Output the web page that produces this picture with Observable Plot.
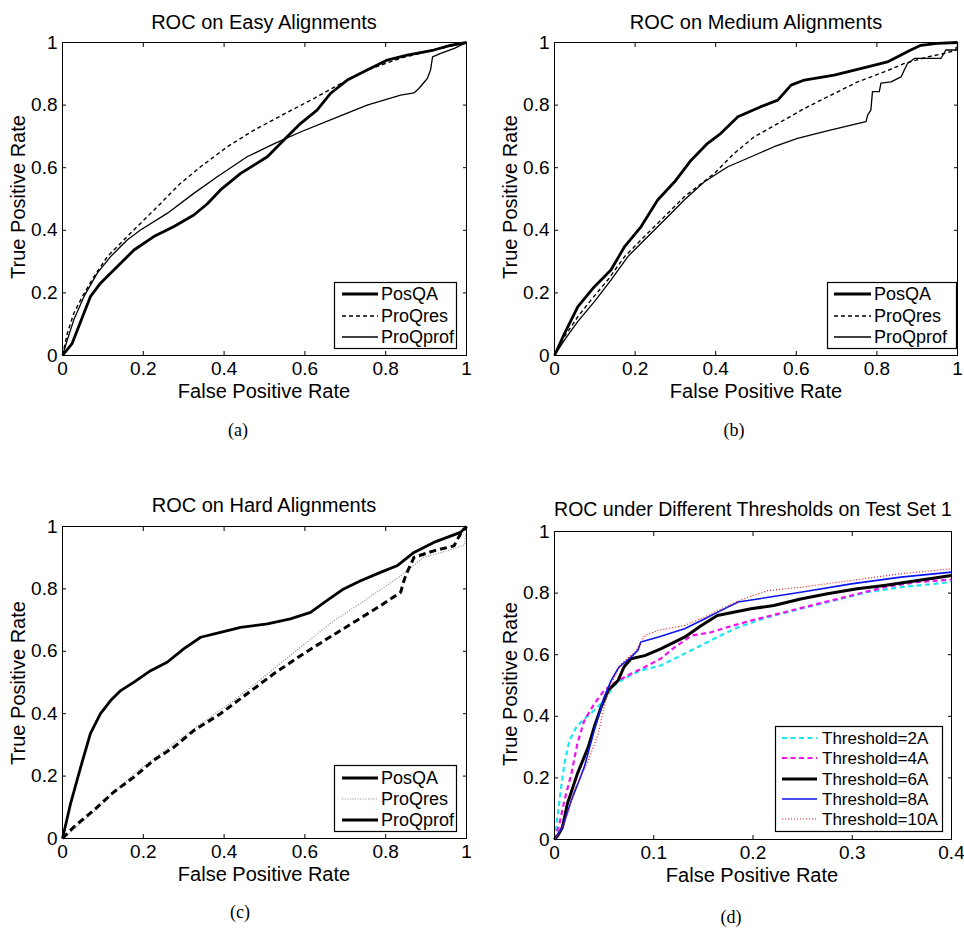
<!DOCTYPE html>
<html>
<head>
<meta charset="utf-8">
<script src="https://cdn.jsdelivr.net/npm/d3@7"></script>
<script src="https://cdn.jsdelivr.net/npm/@observablehq/plot@0.6"></script>
<style>
  html, body { margin: 0; padding: 0; background: #fff; }
  #root { position: relative; width: 964px; height: 928px; overflow: hidden; font-family: "Liberation Sans", Arial, sans-serif; color: #000; }
  .abs { position: absolute; }
  .title, .xlab { position: absolute; transform: translate(-50%, -50%); font-size: 20px; line-height: 0.8; white-space: nowrap; }
  .ylab { position: absolute; transform: translate(-50%, -50%) rotate(-90deg); font-size: 20px; line-height: 0.8; white-space: nowrap; }
  .cap { position: absolute; transform: translate(-50%, -50%); font-family: "Liberation Serif", "DejaVu Serif", serif; font-size: 18px; line-height: 1; }
</style>
</head>
<body>
<div id="root"></div>
<script>
// ---------- tick labels ----------
const rateTicks = [0, 0.2, 0.4, 0.6, 0.8, 1];
const fprTicksD = [0, 0.1, 0.2, 0.3, 0.4];

// ---------- titles / labels ----------
const titles = ["ROC on Easy Alignments", "ROC on Medium Alignments", "ROC on Hard Alignments", "ROC under Different Thresholds on Test Set 1"];
const captions = ["(a)", "(b)", "(c)", "(d)"];
const xLabel = "False Positive Rate";
const yLabel = "True Positive Rate";
const methodNames = ["PosQA", "ProQres", "ProQprof"];
const thresholdNames = ["Threshold=2A", "Threshold=4A", "Threshold=6A", "Threshold=8A", "Threshold=10A"];

// ---------- (a) Easy ----------
const easyPosQA = [[0,0],[0.024,0.039],[0.045,0.109],[0.069,0.188],[0.094,0.231],[0.127,0.273],[0.177,0.337],[0.226,0.380],[0.276,0.412],[0.325,0.449],[0.358,0.484],[0.391,0.529],[0.441,0.582],[0.507,0.635],[0.556,0.699],[0.589,0.741],[0.630,0.784],[0.663,0.837],[0.705,0.880],[0.754,0.912],[0.804,0.944],[0.853,0.960],[0.919,0.976],[0.960,0.991],[1,1]];
const easyProQres = [[0,0],[0.012,0.071],[0.028,0.135],[0.049,0.188],[0.078,0.252],[0.111,0.316],[0.160,0.380],[0.193,0.422],[0.243,0.486],[0.292,0.550],[0.342,0.603],[0.408,0.667],[0.474,0.720],[0.548,0.771],[0.622,0.821],[0.696,0.874],[0.754,0.912],[0.837,0.950],[0.919,0.976],[1,1]];
const easyProQprof = [[0,0],[0.012,0.050],[0.028,0.114],[0.053,0.188],[0.086,0.263],[0.119,0.316],[0.160,0.369],[0.193,0.401],[0.259,0.454],[0.325,0.518],[0.383,0.571],[0.457,0.635],[0.523,0.676],[0.589,0.714],[0.671,0.757],[0.754,0.800],[0.837,0.832],[0.870,0.839],[0.882,0.853],[0.903,0.885],[0.911,0.912],[0.916,0.954],[0.936,0.965],[0.970,0.981],[1,1]];

// ---------- (b) Medium ----------
const medPosQA = [[0,0],[0.025,0.071],[0.058,0.156],[0.099,0.220],[0.140,0.273],[0.174,0.348],[0.215,0.412],[0.256,0.497],[0.298,0.555],[0.339,0.624],[0.380,0.678],[0.413,0.710],[0.455,0.763],[0.512,0.795],[0.554,0.816],[0.587,0.864],[0.620,0.880],[0.694,0.896],[0.777,0.922],[0.826,0.938],[0.884,0.976],[0.909,0.991],[0.950,0.997],[1,1]];
const medProQres = [[0,0],[0.025,0.061],[0.058,0.124],[0.091,0.178],[0.132,0.241],[0.174,0.316],[0.223,0.380],[0.273,0.444],[0.322,0.507],[0.397,0.582],[0.446,0.646],[0.496,0.699],[0.554,0.741],[0.620,0.789],[0.686,0.832],[0.752,0.874],[0.818,0.906],[0.868,0.933],[0.926,0.954],[0.967,0.965],[0.995,0.975],[1,1]];
const medProQprof = [[0,0],[0.025,0.050],[0.058,0.109],[0.099,0.172],[0.140,0.241],[0.182,0.316],[0.223,0.369],[0.273,0.433],[0.322,0.497],[0.372,0.555],[0.430,0.603],[0.488,0.635],[0.545,0.667],[0.603,0.694],[0.669,0.715],[0.736,0.736],[0.773,0.747],[0.777,0.768],[0.785,0.784],[0.789,0.843],[0.806,0.843],[0.810,0.870],[0.835,0.874],[0.860,0.890],[0.868,0.912],[0.876,0.933],[0.893,0.949],[0.959,0.949],[0.971,0.976],[1,0.976],[1,1]];

// ---------- (c) Hard ----------
const hardPosQA = [[0,0],[0.020,0.112],[0.045,0.229],[0.069,0.336],[0.094,0.400],[0.119,0.442],[0.144,0.474],[0.177,0.501],[0.218,0.538],[0.259,0.565],[0.300,0.608],[0.342,0.645],[0.391,0.661],[0.441,0.677],[0.507,0.688],[0.564,0.704],[0.614,0.725],[0.655,0.763],[0.696,0.800],[0.738,0.826],[0.787,0.853],[0.828,0.874],[0.870,0.917],[0.919,0.949],[0.952,0.965],[0.985,0.981],[1,1]];
const hardProQres = [[0,0],[0.036,0.037],[0.094,0.107],[0.177,0.208],[0.259,0.288],[0.342,0.368],[0.424,0.442],[0.507,0.527],[0.589,0.613],[0.672,0.698],[0.754,0.768],[0.837,0.842],[0.894,0.901],[0.952,0.922],[0.995,0.940],[1,1]];
const hardProQprof = [[0,0],[0.028,0.037],[0.078,0.091],[0.127,0.149],[0.177,0.197],[0.226,0.251],[0.276,0.293],[0.325,0.346],[0.391,0.400],[0.457,0.464],[0.523,0.528],[0.589,0.586],[0.655,0.640],[0.721,0.693],[0.787,0.746],[0.837,0.789],[0.845,0.826],[0.853,0.853],[0.870,0.901],[0.919,0.922],[0.969,0.938],[0.985,0.976],[1,1]];

// ---------- (d) Thresholds on Test Set 1 ----------
const thr2A = [[0,0],[0.0034,0.083],[0.0067,0.170],[0.010,0.246],[0.015,0.321],[0.022,0.365],[0.030,0.392],[0.040,0.419],[0.050,0.451],[0.060,0.500],[0.070,0.522],[0.087,0.549],[0.107,0.565],[0.124,0.592],[0.144,0.624],[0.164,0.657],[0.185,0.689],[0.215,0.722],[0.248,0.749],[0.282,0.776],[0.315,0.803],[0.349,0.819],[0.4,0.836]];
const thr4A = [[0,0],[0.005,0.051],[0.010,0.127],[0.017,0.213],[0.023,0.311],[0.030,0.386],[0.040,0.440],[0.050,0.484],[0.064,0.516],[0.077,0.538],[0.091,0.560],[0.107,0.587],[0.121,0.624],[0.138,0.662],[0.158,0.673],[0.174,0.689],[0.198,0.711],[0.232,0.738],[0.265,0.765],[0.299,0.792],[0.332,0.819],[0.366,0.836],[0.4,0.844]];
const thr6A = [[0,0],[0.0034,0.013],[0.008,0.040],[0.013,0.116],[0.023,0.213],[0.034,0.300],[0.040,0.365],[0.047,0.430],[0.054,0.484],[0.064,0.516],[0.070,0.560],[0.077,0.587],[0.091,0.597],[0.107,0.619],[0.131,0.657],[0.148,0.695],[0.164,0.727],[0.198,0.749],[0.221,0.760],[0.248,0.781],[0.275,0.798],[0.305,0.814],[0.332,0.825],[0.366,0.841],[0.4,0.857]];
const thr8A = [[0,0],[0.008,0.040],[0.017,0.127],[0.030,0.235],[0.040,0.354],[0.045,0.408],[0.050,0.462],[0.057,0.516],[0.065,0.560],[0.077,0.592],[0.084,0.614],[0.087,0.641],[0.104,0.657],[0.131,0.684],[0.151,0.716],[0.168,0.744],[0.185,0.771],[0.205,0.781],[0.248,0.803],[0.299,0.830],[0.349,0.852],[0.4,0.868]];
const thr10A = [[0,0],[0.010,0.051],[0.020,0.159],[0.034,0.256],[0.044,0.343],[0.050,0.430],[0.057,0.505],[0.067,0.570],[0.081,0.608],[0.091,0.662],[0.104,0.679],[0.131,0.695],[0.151,0.722],[0.171,0.754],[0.195,0.787],[0.215,0.808],[0.248,0.819],[0.299,0.841],[0.349,0.863],[0.4,0.879]];

// ---------- styles ----------
const sThick = {stroke: "#000", strokeWidth: 2.8};
const sDash = {stroke: "#000", strokeWidth: 1.4, strokeDasharray: "4,3"};
const sThin = {stroke: "#000", strokeWidth: 1.3};
const sDotGray = {stroke: "#8a8a8a", strokeWidth: 1.2, strokeDasharray: "1,1.6"};
const sThickDash = {stroke: "#000", strokeWidth: 3, strokeDasharray: "7,4"};
const sCyan = {stroke: "#19e6f0", strokeWidth: 2.2, strokeDasharray: "5,3.5"};
const sMagenta = {stroke: "#f010f0", strokeWidth: 2.2, strokeDasharray: "5,3.5"};
const sBlack6 = {stroke: "#000", strokeWidth: 3};
const sBlue = {stroke: "#0a14f0", strokeWidth: 1.6};
const sRed = {stroke: "#f01818", strokeWidth: 1.2, strokeDasharray: "1,2"};

const panels = [
  {left: 0, top: 0, width: 482, height: 400, mL: 62, mR: 16, mT: 42, mB: 45, xDomain: [0,1], xTicks: rateTicks,
   series: [[easyPosQA, sThick], [easyProQres, sDash], [easyProQprof, sThin]],
   title: [264, 22, 20], xlab: [264, 390.5], ylab: [18, 197], cap: [238, 430],
   legend: {left: 334, top: 282, w: 123, h: 67, rows: [12, 34, 55], lx: [8, 44], tx: 47, fs: 18, names: methodNames, styles: [sThick, sDash, sThin]}},
  {left: 482, top: 0, width: 482, height: 400, mL: 72, mR: 7, mT: 42, mB: 45, xDomain: [0,1], xTicks: rateTicks,
   series: [[medProQres, sDash], [medProQprof, sThin], [medPosQA, sThick]],
   title: [756, 22, 20], xlab: [756, 390.5], ylab: [510, 197], cap: [734, 430],
   legend: {left: 827, top: 282, w: 130, h: 67, rows: [12, 34, 55], lx: [7, 44], tx: 47, fs: 18, names: methodNames, styles: [sThick, sDash, sThin]}},
  {left: 0, top: 464, width: 482, height: 420, mL: 62, mR: 16, mT: 62, mB: 46, xDomain: [0,1], xTicks: rateTicks,
   series: [[hardProQres, sDotGray], [hardProQprof, sThickDash], [hardPosQA, sThick]],
   title: [264, 505, 20], xlab: [264, 873.5], ylab: [18, 683], cap: [240, 912],
   legend: {left: 334, top: 765, w: 123, h: 67, rows: [13, 34, 55], lx: [8, 44], tx: 47, fs: 18, names: methodNames, styles: [sThick, sDotGray, {stroke: "#000", strokeWidth: 3}]}},
  {left: 482, top: 464, width: 482, height: 420, mL: 72, mR: 13, mT: 67, mB: 45, xDomain: [0,0.4], xTicks: fprTicksD,
   series: [[thr2A, sCyan], [thr4A, sMagenta], [thr6A, sBlack6], [thr8A, sBlue], [thr10A, sRed]],
   title: [753, 510, 19.5], xlab: [752, 874.5], ylab: [510, 684], cap: [731, 917],
   legend: {left: 775, top: 726, w: 168, h: 106, rows: [12, 32, 53, 73, 93], lx: [7, 42], tx: 47, fs: 17, names: thresholdNames, styles: [sCyan, sMagenta, sBlack6, sBlue, sRed]}}
];

const fmt = d => String(+d.toFixed(2));
const root = document.getElementById("root");

panels.forEach((p, i) => {
  const chart = Plot.plot({
    width: p.width, height: p.height,
    marginLeft: p.mL, marginRight: p.mR, marginTop: p.mT, marginBottom: p.mB,
    style: {fontFamily: "'Liberation Sans', Arial, sans-serif", fontSize: "19px", background: "transparent", color: "#000", overflow: "visible"},
    x: {domain: p.xDomain},
    y: {domain: [0, 1]},
    marks: [
      ...p.series.map(([data, st]) => Plot.line(data, {x: d => d[0], y: d => d[1], ...st, strokeLinejoin: "round", strokeLinecap: "butt"})),
      Plot.frame({stroke: "#000", strokeWidth: 1}),
      Plot.axisX({ticks: p.xTicks, anchor: "bottom", tickSize: -4, tickPadding: 10, tickFormat: fmt, label: null, fontSize: 19}),
      Plot.axisX({ticks: p.xTicks, anchor: "top", tickSize: -4, tickFormat: () => "", label: null}),
      Plot.axisY({ticks: rateTicks, anchor: "left", tickSize: -4, tickPadding: 9, tickFormat: fmt, label: null, fontSize: 19}),
      Plot.axisY({ticks: rateTicks, anchor: "right", tickSize: -4, tickFormat: () => "", label: null})
    ]
  });
  const wrap = document.createElement("div");
  wrap.className = "abs";
  wrap.style.left = p.left + "px";
  wrap.style.top = p.top + "px";
  wrap.appendChild(chart);
  root.appendChild(wrap);

  const mk = (cls, text, [x, y, fs]) => {
    const d = document.createElement("div");
    d.className = cls; d.textContent = text;
    d.style.left = x + "px"; d.style.top = y + "px";
    if (fs) d.style.fontSize = fs + "px";
    root.appendChild(d);
  };
  mk("title", titles[i], p.title);
  mk("xlab", xLabel, p.xlab);
  mk("ylab", yLabel, p.ylab);
  mk("cap", captions[i], p.cap);

  // legend
  const L = p.legend;
  const svg = d3.create("svg")
    .attr("width", L.w).attr("height", L.h)
    .style("position", "absolute").style("left", L.left + "px").style("top", L.top + "px")
    .style("background", "#fff").style("overflow", "visible");
  svg.append("rect").attr("x", 0.5).attr("y", 0.5).attr("width", L.w - 1).attr("height", L.h - 1)
    .attr("fill", "#fff").attr("stroke", "#000").attr("stroke-width", 1.2);
  L.names.forEach((name, j) => {
    const st = L.styles[j];
    svg.append("line").attr("x1", L.lx[0]).attr("x2", L.lx[1]).attr("y1", L.rows[j]).attr("y2", L.rows[j])
      .attr("stroke", st.stroke).attr("stroke-width", st.strokeWidth)
      .attr("stroke-dasharray", st.strokeDasharray || null);
    svg.append("text").attr("x", L.tx).attr("y", L.rows[j]).attr("dy", "0.35em")
      .attr("font-family", "'Liberation Sans', Arial, sans-serif").attr("font-size", L.fs)
      .text(name);
  });
  root.appendChild(svg.node());
});
</script>
</body>
</html>
